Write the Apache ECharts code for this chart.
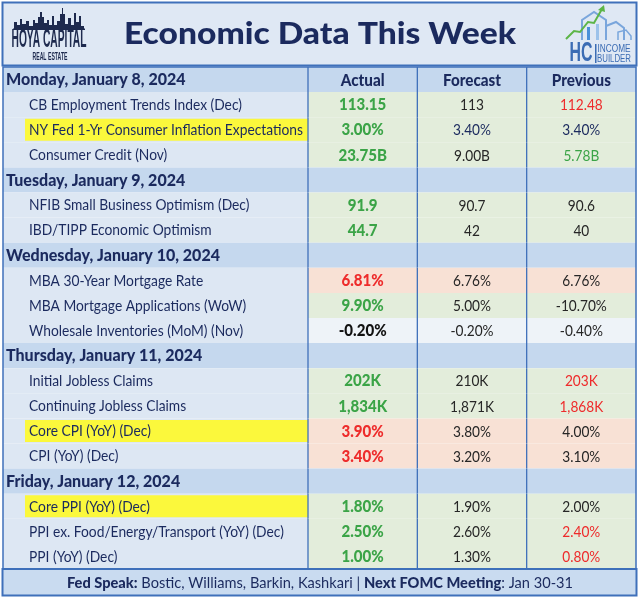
<!DOCTYPE html>
<html><head><meta charset="utf-8">
<script src="https://cdn.jsdelivr.net/npm/echarts@6/dist/echarts.min.js"></script>
<style>html,body{margin:0;padding:0;background:#fff}#c{width:640px;height:598px}</style>
</head><body><div id="c"></div>
<script>
// ---------------- data ----------------
const titleText = 'Economic Data This Week';
const columnHeaders = ['Actual', 'Forecast', 'Previous'];
const rowLabels = [
  'Monday, January 8, 2024',
  'CB Employment Trends Index (Dec)',
  'NY Fed 1-Yr Consumer Inflation Expectations',
  'Consumer Credit (Nov)',
  'Tuesday, January 9, 2024',
  'NFIB Small Business Optimism (Dec)',
  'IBD/TIPP Economic Optimism',
  'Wednesday, January 10, 2024',
  'MBA 30-Year Mortgage Rate',
  'MBA Mortgage Applications (WoW)',
  'Wholesale Inventories (MoM) (Nov)',
  'Thursday, January 11, 2024',
  'Initial Jobless Claims',
  'Continuing Jobless Claims',
  'Core CPI (YoY) (Dec)',
  'CPI (YoY) (Dec)',
  'Friday, January 12, 2024',
  'Core PPI (YoY) (Dec)',
  'PPI ex. Food/Energy/Transport (YoY) (Dec)',
  'PPI (YoY) (Dec)'
];
const dayRows = [0, 4, 7, 11, 16];
const highlightedRows = [2, 14, 17];
const actualValues   = ['', '113.15', '3.00%', '23.75B', '', '91.9', '44.7', '', '6.81%', '9.90%', '-0.20%', '', '202K', '1,834K', '3.90%', '3.40%', '', '1.80%', '2.50%', '1.00%'];
const forecastValues = ['', '113', '3.40%', '9.00B', '', '90.7', '42', '', '6.76%', '5.00%', '-0.20%', '', '210K', '1,871K', '3.80%', '3.20%', '', '1.90%', '2.60%', '1.30%'];
const previousValues = ['', '112.48', '3.40%', '5.78B', '', '90.6', '40', '', '6.76%', '-10.70%', '-0.40%', '', '203K', '1,868K', '4.00%', '3.10%', '', '2.00%', '2.40%', '0.80%'];
const actualTone   = ['', 'up', 'up', 'up', '', 'up', 'up', '', 'down', 'up', 'flat', '', 'up', 'up', 'down', 'down', '', 'up', 'up', 'up'];
const forecastTone = ['', '', 'navy', '', '', '', '', '', '', '', '', '', '', '', '', '', '', '', '', ''];
const previousTone = ['', 'down', 'navy', 'up', '', '', '', '', '', '', '', '', 'down', 'down', '', '', '', '', 'down', 'down'];
const footerParts = [['Fed Speak:', 'b'], [' Bostic, Williams, Barkin, Kashkari | ', 'r'], ['Next FOMC Meeting', 'b'], [': Jan 30-31', 'r']];

// ---------------- styles ----------------
const C = {
  navy: '#1b2a5e', line: '#3f70ba', day: '#c5d8ee', item: '#dde7f3', band: '#dfe8f4',
  up: '#e3eddb', down: '#f8e1d5', flat: '#eef3f8', green: '#3ba447', red: '#ee2b2b',
  ink: '#262626', yellow: '#fbf83c', footer: '#c9dbf0'
};
const FAM = 'Lato, "Noto Sans", sans-serif';
const LABEL_FONT = '15px ' + FAM;
const DAY_FONT = '900 16.5px ' + FAM;
const HEAD_FONT = '900 17px ' + FAM;
const ACT_FONT = '900 16px ' + FAM;
const VAL_FONT = '16px ' + FAM;
const FOOT_B = '900 15px ' + FAM;
const FOOT_R = '15px ' + FAM;
const TITLE_FONT = '900 31px ' + FAM;

const meas = document.createElement('canvas').getContext('2d');
function textW(font, s) { meas.font = font; return meas.measureText(s).width; }
function fitScale(font, sample, target) { const w = textW(font, sample); return w ? target / w : 1; }
const labelScale = fitScale(LABEL_FONT, 'NY Fed 1-Yr Consumer Inflation Expectations', 274);
const dayScale = fitScale(DAY_FONT, 'Wednesday, January 10, 2024', 214);
const headScale = fitScale(HEAD_FONT, 'Forecast', 58);
const actScale = fitScale(ACT_FONT, '1,834K', 49);
const valScale = fitScale(VAL_FONT, '-10.70%', 51);
const titleScale = fitScale(TITLE_FONT, titleText, 392);
const footW = footerParts.reduce((a, [t, k]) => a + textW(k === 'b' ? FOOT_B : FOOT_R, t), 0);
const footScale = footW ? 506 / footW : 1;

function txt(x, y, text, font, fill, align, sx) {
  return { type: 'text', x: x, y: y, scaleX: sx, scaleY: 1,
    style: { text: text, font: font, fill: fill, align: align, verticalAlign: 'middle',
             textAlign: align, textVerticalAlign: 'middle' } };
}

function renderLabel(params, api) {
  const row = api.value(1);
  const p = api.coord([0, row]);
  const s = api.size([1, 1]);
  const x0 = p[0] - s[0] / 2, y0 = p[1] - s[1] / 2;
  const isDay = dayRows.indexOf(row) >= 0;
  const ch = [{ type: 'rect', shape: { x: x0, y: y0, width: s[0], height: s[1] }, style: { fill: isDay ? C.day : C.item } }];
  if (highlightedRows.indexOf(row) >= 0) {
    ch.push({ type: 'rect', shape: { x: x0 + 22, y: y0 + 1.5, width: s[0] - 22, height: s[1] - 3 }, style: { fill: C.yellow } });
  }
  ch.push(isDay ? txt(x0 + 3, p[1] + 0.5, rowLabels[row], DAY_FONT, C.navy, 'left', dayScale)
                : txt(x0 + 26, p[1] + 0.5, rowLabels[row], LABEL_FONT, C.navy, 'left', labelScale));
  return { type: 'group', children: ch };
}

function toneColor(t, fallback) {
  if (t === 'up') return C.green;
  if (t === 'down') return C.red;
  if (t === 'navy') return C.navy;
  if (t === 'flat') return '#111';
  return fallback;
}

function renderValue(params, api) {
  const col = api.value(0), row = api.value(1);
  const p = api.coord([col, row]);
  const s = api.size([1, 1]);
  const x0 = p[0] - s[0] / 2, y0 = p[1] - s[1] / 2;
  const isDay = dayRows.indexOf(row) >= 0;
  const bg = isDay ? C.day : (C[actualTone[row]] || C.flat);
  const ch = [{ type: 'rect', shape: { x: x0, y: y0, width: s[0], height: s[1] }, style: { fill: bg } }];
  ch.push({ type: 'line', shape: { x1: x0, y1: y0, x2: x0, y2: y0 + s[1] }, style: { stroke: C.line, lineWidth: 1.3 } });
  if (row === 0) {
    ch.push(txt(p[0], p[1] + 0.5, columnHeaders[col], HEAD_FONT, C.navy, 'center', headScale));
  } else if (!isDay) {
    if (col === 0) ch.push(txt(p[0], p[1] + 0.5, actualValues[row], ACT_FONT, toneColor(actualTone[row], C.ink), 'center', actScale));
    if (col === 1) ch.push(txt(p[0], p[1] + 0.5, forecastValues[row], VAL_FONT, toneColor(forecastTone[row], C.ink), 'center', valScale));
    if (col === 2) ch.push(txt(p[0], p[1] + 0.5, previousValues[row], VAL_FONT, toneColor(previousTone[row], C.ink), 'center', valScale));
  }
  return { type: 'group', children: ch };
}

const labelData = rowLabels.map((_, i) => [0, i]);
const valueData = [];
columnHeaders.forEach((_, c) => rowLabels.forEach((__, r) => valueData.push([c, r])));

// ---------------- logos / decoration ----------------
const skyline = [[14,29],[14,22],[17,22],[17,25],[20,25],[20,19],[22,19],[22,24],[26,24],[26,21],[29,21],[29,26],[33,26],[33,20],[35,20],[35,23],[38,23],[38,17],[40,17],[40,12],[42,12],[42,17],[44,17],[44,23],[47,23],[47,20],[49,20],[49,25],[52,25],[52,16],[54,16],[54,25],[57,25],[57,21],[60,21],[60,14],[62,14],[62,8],[63,8],[63,14],[65,14],[65,24],[68,24],[68,18],[71,18],[71,25],[74,25],[74,13],[76,13],[76,22],[79,22],[79,16],[81,16],[81,26],[84,26],[84,29]];
const graphics = [
  { type: 'rect', z: -10, shape: { x: 2.5, y: 2.5, width: 634, height: 63 }, style: { fill: C.band, stroke: C.line, lineWidth: 2 } },
  { type: 'text', x: 320, y: 34, scaleX: titleScale, style: { text: titleText, font: TITLE_FONT, fill: C.navy, align: 'center', verticalAlign: 'middle' } },
  { type: 'polygon', shape: { points: skyline }, style: { fill: '#1e2a4e' } },
  { type: 'rect', shape: { x: 13, y: 28.5, width: 72, height: 1.5 }, style: { fill: '#1e2a4e' } },
  { type: 'text', x: 49, y: 40, scaleX: fitScale('bold 25px "Liberation Sans"', 'HOYA CAPITAL', 75), style: { text: 'HOYA CAPITAL', font: 'bold 25px "Liberation Sans"', fill: '#1e2a4e', align: 'center', verticalAlign: 'middle' } },
  { type: 'text', x: 50, y: 57.5, scaleX: fitScale('bold 10px "Liberation Sans"', 'REAL ESTATE', 35), style: { text: 'REAL ESTATE', font: 'bold 10px "Liberation Sans"', fill: '#1e2a4e', align: 'center', verticalAlign: 'middle' } },
  // HC logo
  { type: 'polyline', shape: { points: [[582,40],[582,20],[594,12],[606,20],[606,40]] }, style: { stroke: '#7aa6dc', lineWidth: 2, fill: null } },
  { type: 'polyline', shape: { points: [[606,40],[606,26],[616,22],[624,28],[624,40]] }, style: { stroke: '#7aa6dc', lineWidth: 2, fill: null } },
  { type: 'polyline', shape: { points: [[618,40],[618,32],[626,30],[631,36],[631,40]] }, style: { stroke: '#7aa6dc', lineWidth: 1.5, fill: null } },
  { type: 'rect', shape: { x: 587, y: 27, width: 3, height: 13 }, style: { fill: '#4a90d9' } },
  { type: 'rect', shape: { x: 596, y: 24, width: 3, height: 16 }, style: { fill: '#9cc2ea' } },
  { type: 'polyline', shape: { points: [[566,39],[574,31],[580,32],[588,22],[594,23],[602,9]] }, style: { stroke: '#5cb547', lineWidth: 2, fill: null } },
  { type: 'polygon', shape: { points: [[604,5],[598,10],[605,12]] }, style: { fill: '#5cb547' } },
  { type: 'text', x: 581, y: 54, scaleX: fitScale('bold 27px "Liberation Sans"', 'HC', 23), style: { text: 'HC', font: 'bold 27px "Liberation Sans"', fill: '#3b6cb4', align: 'center', verticalAlign: 'middle' } },
  { type: 'rect', shape: { x: 595, y: 44, width: 1.5, height: 19 }, style: { fill: '#3b6cb4' } },
  { type: 'text', x: 614, y: 48.5, scaleX: fitScale('11px "Liberation Sans"', 'INCOME', 33), style: { text: 'INCOME', font: '11px "Liberation Sans"', fill: '#3b6cb4', align: 'center', verticalAlign: 'middle' } },
  { type: 'text', x: 614, y: 58.5, scaleX: fitScale('11px "Liberation Sans"', 'BUILDER', 34), style: { text: 'BUILDER', font: '11px "Liberation Sans"', fill: '#3b6cb4', align: 'center', verticalAlign: 'middle' } },
  // table outer frame
  { type: 'rect', z: 100, shape: { x: 3, y: 67, width: 633, height: 502 }, style: { fill: 'none', stroke: C.line, lineWidth: 1.5 } },
  // footer
  { type: 'rect', z: 90, shape: { x: 2.5, y: 569, width: 634, height: 26.5 }, style: { fill: C.footer, stroke: C.line, lineWidth: 2 } },
  { type: 'text', z: 101, x: 320, y: 583, scaleX: footScale,
    style: { text: footerParts.map(([t, k]) => '{' + k + '|' + t + '}').join(''), align: 'center', verticalAlign: 'middle',
      rich: { b: { font: FOOT_B, fill: C.navy }, r: { font: FOOT_R, fill: C.navy } } } }
];

const chart = echarts.init(document.getElementById('c'), null, { renderer: 'canvas' });
chart.setOption({
  animation: false,
  backgroundColor: '#ffffff',
  grid: [
    { left: 3, top: 67, width: 305, height: 502 },
    { left: 308, top: 67, width: 328, height: 502 }
  ],
  xAxis: [
    { gridIndex: 0, type: 'category', data: ['label'], show: false },
    { gridIndex: 1, type: 'category', data: columnHeaders, show: false }
  ],
  yAxis: [
    { gridIndex: 0, type: 'category', data: rowLabels, inverse: true, show: false },
    { gridIndex: 1, type: 'category', data: rowLabels, inverse: true, show: false }
  ],
  series: [
    { type: 'custom', xAxisIndex: 0, yAxisIndex: 0, renderItem: renderLabel, data: labelData, silent: true },
    { type: 'custom', xAxisIndex: 1, yAxisIndex: 1, renderItem: renderValue, data: valueData, silent: true }
  ],
  graphic: graphics
});
</script>
</body></html>
